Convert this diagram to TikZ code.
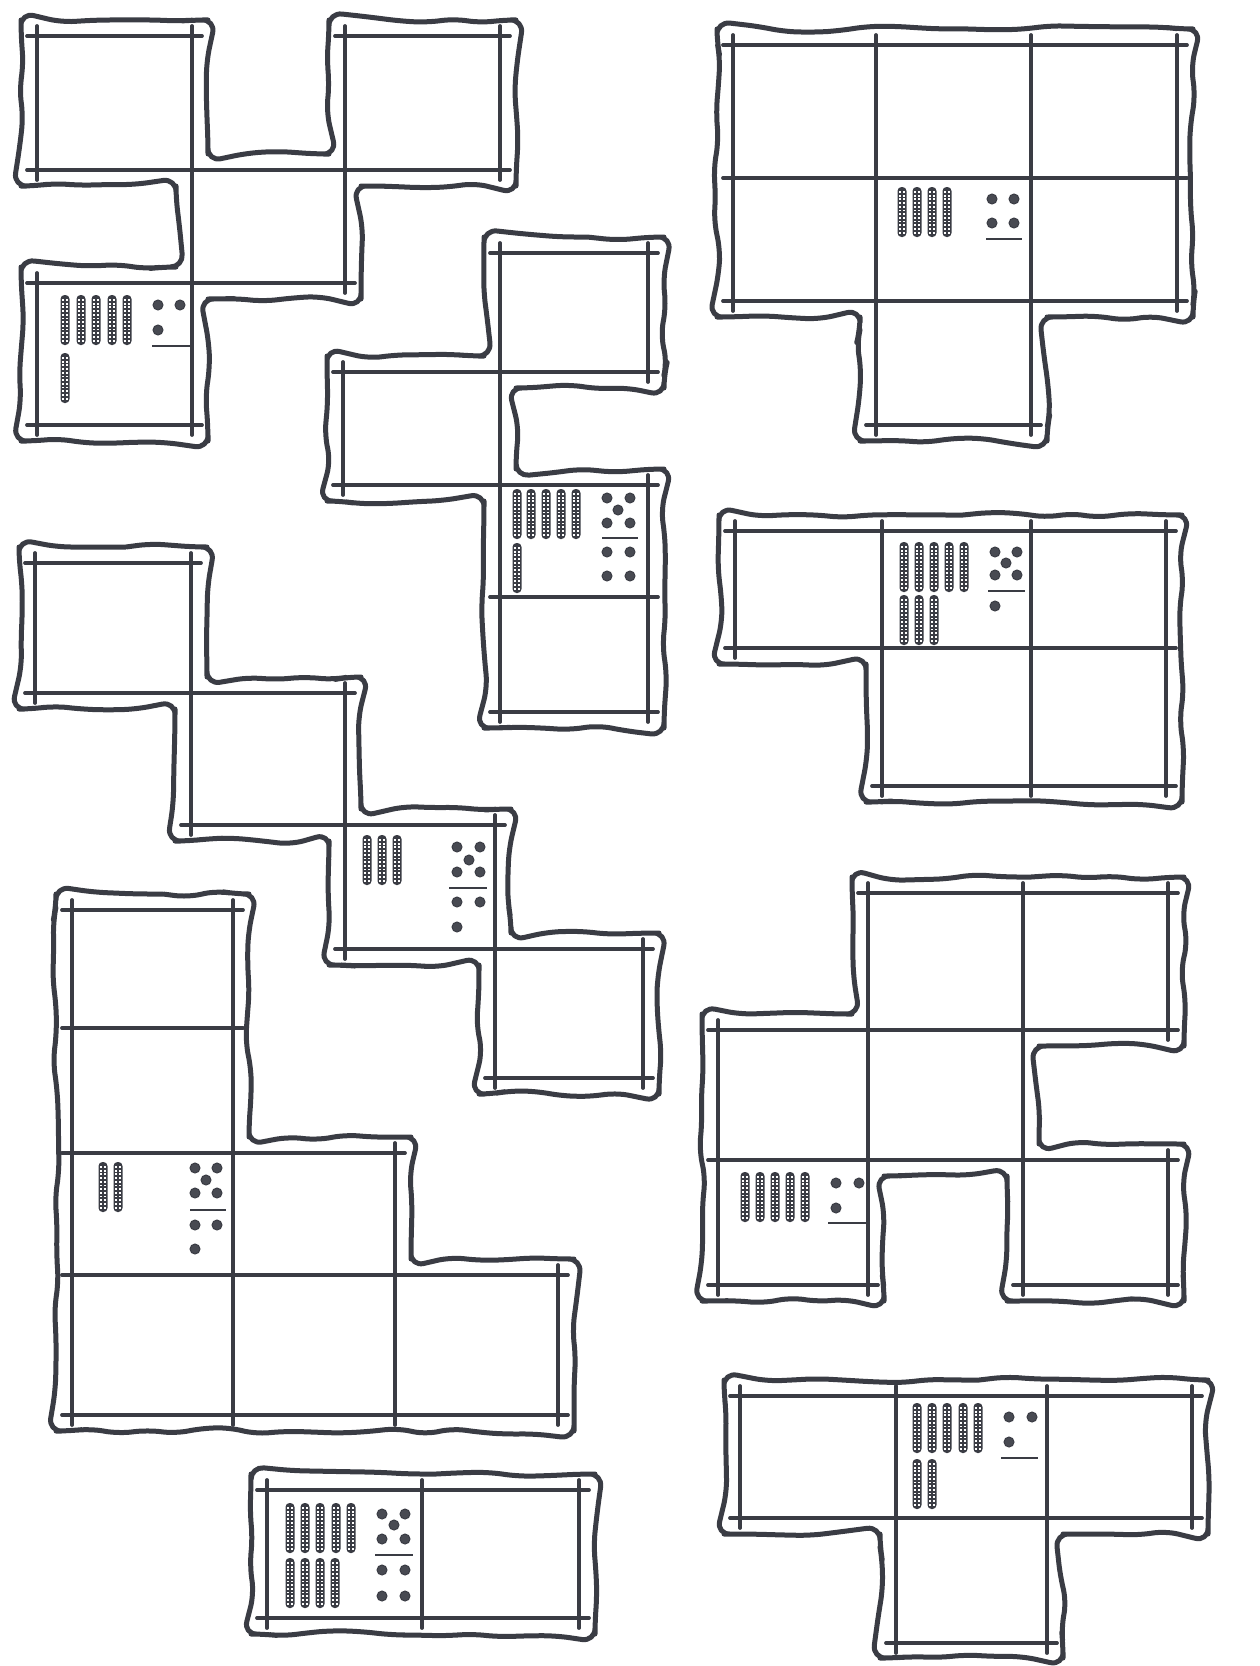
\documentclass[tikz,border=0pt]{standalone}
\usepackage{tikz}
\usetikzlibrary{decorations.pathmorphing}
\definecolor{ink}{RGB}{58,60,68}
\definecolor{pipgrey}{RGB}{72,74,82}

% one rod of ten beads, top centre at (#1,#2)
\newcommand{\tenbar}[2]{%
  \fill[ink, rounded corners=0.08cm] (#1-4.5,#2) rectangle (#1+4.5,#2+50);
  \foreach \k in {0,...,11} {
    \fill[white] (#1-2.8,#2+4+3.7*\k) rectangle ++(1.8,1.8);
    \fill[white] (#1+1.0,#2+4+3.7*\k) rectangle ++(1.8,1.8);
  }}

\begin{document}
\begin{tikzpicture}[
    x=0.02cm, y=-0.02cm,
    wavyrim/.style={draw=ink, line width=0.1cm, line join=round, decorate,
                 decoration={random steps, segment length=0.55cm, amplitude=0.07cm},
                 rounded corners=0.26cm},
    gridline/.style={draw=ink, line width=0.075cm, line cap=round},
    fracline/.style={draw=ink, line width=0.04cm},
    pip/.style={fill=pipgrey, draw=ink, line width=0.02cm}
]
\pgfmathsetseed{11}
\fill[white] (0,0) rectangle (1259,1666);
\useasboundingbox (0,0) rectangle (1259,1666);

% top left zigzag
\draw[wavyrim] (110,20) -- (208,20) -- (208,154) -- (329,154) -- (329,20) -- (516,20)
  -- (516,186) -- (361,186) -- (361,299) -- (208,299) -- (208,441) -- (21,441)
  -- (21,267) -- (176,267) -- (176,186) -- (21,186) -- (21,20) -- cycle;
\draw[gridline] (27,36) -- (202,36);
\draw[gridline] (335,36) -- (510,36);
\draw[gridline] (27,170) -- (510,170);
\draw[gridline] (27,283) -- (355,283);
\draw[gridline] (27,425) -- (202,425);
\draw[gridline] (37,26) -- (37,180);
\draw[gridline] (37,273) -- (37,435);
\draw[gridline] (192,26) -- (192,435);
\draw[gridline] (345,26) -- (345,293);
\draw[gridline] (500,26) -- (500,180);
\foreach \bx in {65,81,96,112,127} \tenbar{\bx}{295};
\tenbar{65}{353}
\foreach \p in {(158,305),(180,305),(158,330)} \draw[pip] \p circle[radius=5];
\draw[fracline] (152,346) -- (190,346);

% middle column, top
\draw[wavyrim] (574,237) -- (664,237) -- (664,388) -- (516,388) -- (516,469) -- (664,469)
  -- (664,728) -- (484,728) -- (484,501) -- (327,501) -- (327,356) -- (484,356)
  -- (484,237) -- cycle;
\draw[gridline] (490,253) -- (658,253);
\draw[gridline] (333,372) -- (658,372);
\draw[gridline] (333,485) -- (658,485);
\draw[gridline] (490,597) -- (658,597);
\draw[gridline] (490,712) -- (658,712);
\draw[gridline] (343,362) -- (343,495);
\draw[gridline] (500,243) -- (500,722);
\draw[gridline] (648,243) -- (648,382);
\draw[gridline] (648,475) -- (648,722);
\foreach \bx in {517,531,546,561,576} \tenbar{\bx}{489};
\tenbar{517}{543}
\foreach \p in {(607,498),(630,498),(618,510),(607,523),(630,523),
                (607,552),(630,552),(607,576),(630,576)} \draw[pip] \p circle[radius=5];
\draw[fracline] (602,538) -- (638,538);

% top right
\draw[wavyrim] (955,29) -- (1193,29) -- (1193,317) -- (1047,317) -- (1047,441)
  -- (860,441) -- (860,317) -- (717,317) -- (717,29) -- cycle;
\draw[gridline] (723,45) -- (1187,45);
\draw[gridline] (723,178) -- (1187,178);
\draw[gridline] (723,301) -- (1187,301);
\draw[gridline] (866,425) -- (1041,425);
\draw[gridline] (733,35) -- (733,311);
\draw[gridline] (876,35) -- (876,435);
\draw[gridline] (1031,35) -- (1031,435);
\draw[gridline] (1177,35) -- (1177,311);
\foreach \bx in {902,917,932,947} \tenbar{\bx}{187};
\foreach \p in {(992,199),(1014,199),(992,223),(1014,223)} \draw[pip] \p circle[radius=5];
\draw[fracline] (986,239) -- (1022,239);

% right, second
\draw[wavyrim] (950,515) -- (1182,515) -- (1182,802) -- (866,802) -- (866,664)
  -- (719,664) -- (719,515) -- cycle;
\draw[gridline] (725,531) -- (1176,531);
\draw[gridline] (725,648) -- (1176,648);
\draw[gridline] (872,786) -- (1176,786);
\draw[gridline] (735,521) -- (735,658);
\draw[gridline] (882,521) -- (882,796);
\draw[gridline] (1031,521) -- (1031,796);
\draw[gridline] (1166,521) -- (1166,796);
\foreach \bx in {904,919,934,949,964} \tenbar{\bx}{542};
\foreach \bx in {904,919,934} \tenbar{\bx}{595};
\foreach \p in {(995,552),(1017,552),(1006,563),(995,575),(1017,575),(995,606)}
  \draw[pip] \p circle[radius=5];
\draw[fracline] (988,591) -- (1025,591);

% left staircase
\draw[wavyrim] (113,547) -- (207,547) -- (207,677) -- (361,677) -- (361,809) -- (511,809)
  -- (511,933) -- (659,933) -- (659,1094) -- (479,1094) -- (479,965) -- (329,965)
  -- (329,841) -- (175,841) -- (175,709) -- (19,709) -- (19,547) -- cycle;
\draw[gridline] (25,563) -- (201,563);
\draw[gridline] (25,693) -- (355,693);
\draw[gridline] (181,825) -- (505,825);
\draw[gridline] (335,949) -- (653,949);
\draw[gridline] (485,1078) -- (653,1078);
\draw[gridline] (35,553) -- (35,703);
\draw[gridline] (191,553) -- (191,835);
\draw[gridline] (345,683) -- (345,959);
\draw[gridline] (495,815) -- (495,1088);
\draw[gridline] (643,939) -- (643,1088);
\foreach \bx in {367,382,397} \tenbar{\bx}{835};
\foreach \p in {(457,847),(480,847),(469,860),(457,872),(480,872),
                (457,902),(480,902),(457,927)} \draw[pip] \p circle[radius=5];
\draw[fracline] (449,888) -- (487,888);

% left, large
\draw[wavyrim] (150,894) -- (249,894) -- (249,1137) -- (411,1137) -- (411,1259)
  -- (574,1259) -- (574,1431) -- (56,1431) -- (56,894) -- cycle;
\draw[gridline] (62,910) -- (243,910);
\draw[gridline] (62,1028) -- (243,1028);
\draw[gridline] (62,1153) -- (405,1153);
\draw[gridline] (62,1275) -- (568,1275);
\draw[gridline] (62,1415) -- (568,1415);
\draw[gridline] (72,900) -- (72,1425);
\draw[gridline] (233,900) -- (233,1425);
\draw[gridline] (395,1143) -- (395,1425);
\draw[gridline] (558,1265) -- (558,1425);
\foreach \bx in {103,118} \tenbar{\bx}{1162};
\foreach \p in {(195,1168),(217,1168),(206,1180),(195,1193),(217,1193),
                (195,1225),(217,1225),(195,1249)} \draw[pip] \p circle[radius=5];
\draw[fracline] (190,1210) -- (226,1210);

% bottom domino
\draw[wavyrim] (423,1474) -- (595,1474) -- (595,1634) -- (251,1634) -- (251,1474) -- cycle;
\draw[gridline] (257,1490) -- (589,1490);
\draw[gridline] (257,1618) -- (589,1618);
\draw[gridline] (267,1480) -- (267,1628);
\draw[gridline] (422,1480) -- (422,1628);
\draw[gridline] (579,1480) -- (579,1628);
\foreach \bx in {290,305,320,336,351} \tenbar{\bx}{1503};
\foreach \bx in {290,305,320,335} \tenbar{\bx}{1558};
\foreach \p in {(382,1514),(405,1514),(394,1525),(382,1539),(405,1539),
                (382,1570),(405,1570),(382,1596),(405,1596)} \draw[pip] \p circle[radius=5];
\draw[fracline] (375,1555) -- (413,1555);

% right, third
\draw[wavyrim] (1018,877) -- (1184,877) -- (1184,1046) -- (1039,1046) -- (1039,1144)
  -- (1184,1144) -- (1184,1301) -- (1007,1301) -- (1007,1176) -- (884,1176)
  -- (884,1301) -- (702,1301) -- (702,1014) -- (852,1014) -- (852,877) -- cycle;
\draw[gridline] (858,893) -- (1178,893);
\draw[gridline] (708,1030) -- (1178,1030);
\draw[gridline] (708,1160) -- (1178,1160);
\draw[gridline] (708,1285) -- (878,1285);
\draw[gridline] (1013,1285) -- (1178,1285);
\draw[gridline] (718,1020) -- (718,1295);
\draw[gridline] (868,883) -- (868,1295);
\draw[gridline] (1023,883) -- (1023,1295);
\draw[gridline] (1168,883) -- (1168,1040);
\draw[gridline] (1168,1150) -- (1168,1295);
\foreach \bx in {745,760,775,790,805} \tenbar{\bx}{1172};
\foreach \p in {(836,1183),(859,1183),(836,1208)} \draw[pip] \p circle[radius=5];
\draw[fracline] (828,1223) -- (866,1223);

% bottom right
\draw[wavyrim] (966,1380) -- (1208,1380) -- (1208,1534) -- (1063,1534) -- (1063,1658)
  -- (880,1658) -- (880,1534) -- (724,1534) -- (724,1380) -- cycle;
\draw[gridline] (730,1396) -- (1202,1396);
\draw[gridline] (730,1518) -- (1202,1518);
\draw[gridline] (886,1643) -- (1057,1643);
\draw[gridline] (740,1386) -- (740,1528);
\draw[gridline] (896,1386) -- (896,1653);
\draw[gridline] (1047,1386) -- (1047,1653);
\draw[gridline] (1192,1386) -- (1192,1528);
\foreach \bx in {917,932,947,963,978} \tenbar{\bx}{1403};
\foreach \bx in {917,932} \tenbar{\bx}{1459};
\foreach \p in {(1009,1417),(1032,1417),(1009,1442)} \draw[pip] \p circle[radius=5];
\draw[fracline] (1001,1458) -- (1038,1458);
\end{tikzpicture}
\end{document}
